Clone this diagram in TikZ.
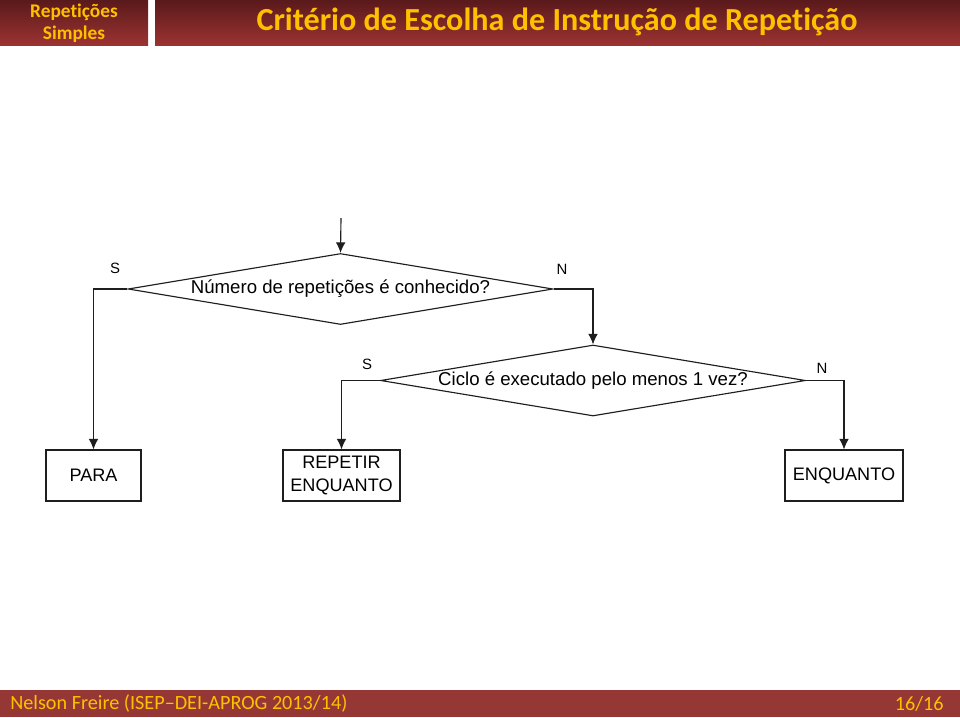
\documentclass[tikz,border=0pt]{standalone}
\usepackage{fontspec}
\setmainfont{Carlito}[Ligatures={TeX,NoCommon}]
\newfontfamily\arialfont{Liberation Sans}
\usetikzlibrary{shapes}
\usetikzlibrary{positioning}
\usetikzlibrary{arrows.meta}
\definecolor{hdtop}{HTML}{5A191B}
\definecolor{hdbot}{HTML}{9B3332}
\definecolor{barred}{HTML}{953735}
\definecolor{gold}{HTML}{FFC000}
\definecolor{linegray}{HTML}{1E1E1E}
\tikzset{
    decision/.style = {diamond, draw=linegray, line width=0.65pt, aspect=6, inner sep=0pt, minimum width=8.5cm, minimum height=1.42cm, font=\arialfont\fontsize{10.6}{12}\selectfont},
    action/.style = {rectangle, draw=linegray, line width=0.65pt, inner xsep=1pt, minimum height=1.02cm, align=center, font=\arialfont\fontsize{10.3}{13}\selectfont},
    answer/.style = {inner sep=0pt, font=\arialfont\fontsize{8.5}{10}\selectfont},
    edgen/.style = {-{Latex[length=6pt,width=5.5pt]}, line width=0.65pt, draw=linegray},
    headtext/.style = {text=gold, font=\bfseries\fontsize{11}{12.5}\selectfont, align=center},
    titletext/.style = {text=gold, font=\bfseries\fontsize{18.3}{21}\selectfont},
    foottext/.style = {text=gold, font=\fontsize{11.5}{13}\selectfont, inner sep=0pt}
}

\begin{document}
\begin{tikzpicture}[x=0.02cm, y=-0.02cm]
\useasboundingbox (0,0) rectangle (960,717);
%
% header and footer
\shade[top color=hdtop, bottom color=hdbot] (0,0) rectangle (148,45);
\shade[top color=hdtop, bottom color=hdbot] (155,0) rectangle (960,45);
\fill[barred] (0,690) rectangle (960,717);
\node[headtext] (sec) at (74,23) {Repetições\\Simples};
\node[titletext] (ttl) at (557,22) {Critério de Escolha de Instrução de Repetição};
\node[foottext, anchor=west] (autor) at (10,704) {Nelson Freire (ISEP–DEI-APROG 2013/14)};
\node[foottext, anchor=east] (pag) at (944,704) {16/16};
%
% flowchart
\coordinate (start) at (341,218);
\node[decision] (q1) at (340.5,289) {Número de repetições é conhecido?};
\node[decision] (q2) at (593,380.5) {Ciclo é executado pelo menos 1 vez?};
\node[action, minimum width=1.9cm] (para) at (93.5,475.5) {PARA};
\node[action, minimum width=2.34cm] (rep) at (341.5,475.5) {REPETIR\\ENQUANTO};
\node[action, minimum width=2.36cm] (enq) at (844,475.5) {ENQUANTO};
\node[answer] (s1) at (115,268) {S};
\node[answer] (n1) at (562,269) {N};
\node[answer] (s2) at (367,364) {S};
\node[answer] (n2) at (822,368) {N};
%
\draw[edgen] (start) -- (q1.north);
\draw[edgen] (q1.west) -| (para.north);
\draw[edgen] (q1.east) -| (q2.north);
\draw[edgen] (q2.west) -| (rep.north);
\draw[edgen] (q2.east) -| (enq.north);

\end{tikzpicture}
\end{document}
